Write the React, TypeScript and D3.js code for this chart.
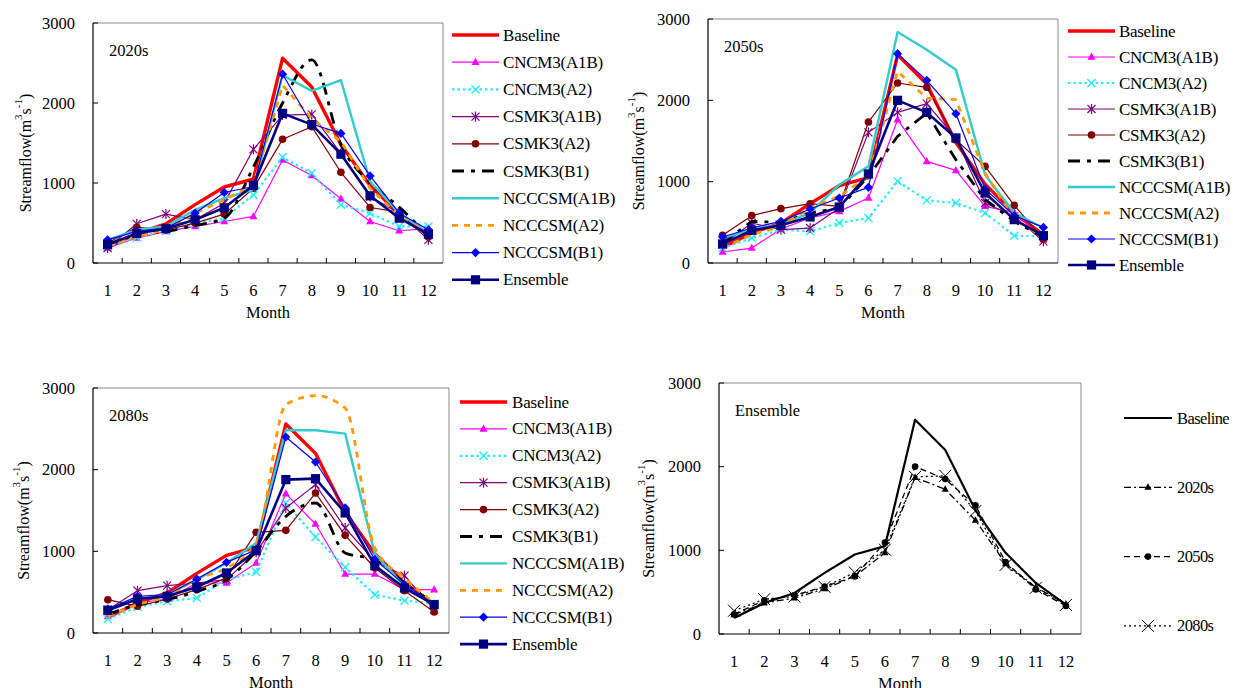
import React from "react";
import * as d3 from "d3";

const FONT = "Liberation Serif, Times New Roman, DejaVu Serif, serif";

const months = [1, 2, 3, 4, 5, 6, 7, 8, 9, 10, 11, 12];
const yTicks = [0, 1000, 2000, 3000];

const seriesNames = [
  "Baseline", "CNCM3(A1B)", "CNCM3(A2)", "CSMK3(A1B)", "CSMK3(A2)",
  "CSMK3(B1)", "NCCCSM(A1B)", "NCCCSM(A2)", "NCCCSM(B1)", "Ensemble",
];
const ensembleNames = ["Baseline", "2020s", "2050s", "2080s"];

const baseline = [190, 370, 490, 730, 950, 1050, 2560, 2200, 1480, 970, 610, 350];

// 2020s
const cncm3A1B_2020 = [187, 312, 395, 457, 519, 582, 1288, 1093, 802, 519, 403, 430];
const cncm3A2_2020 = [208, 320, 403, 490, 560, 850, 1321, 1122, 727, 623, 457, 457];
const csmk3A1B_2020 = [187, 490, 611, 540, 748, 1421, 1849, 1857, 1371, 831, 623, 290];
const csmk3A2_2020 = [250, 445, 415, 499, 611, 935, 1546, 1704, 1134, 694, 636, 324];
const csmk3B1_2020 = [228, 353, 395, 470, 560, 1200, 2000, 2540, 1480, 1000, 700, 330];
const ncccsmA1B_2020 = [290, 415, 457, 665, 810, 914, 2347, 2152, 2285, 1018, 623, 374];
const ncccsmA2_2020 = [208, 332, 415, 623, 790, 976, 2223, 1807, 1517, 935, 582, 374];
const ncccsmB1_2020 = [290, 395, 436, 623, 881, 956, 2360, 1737, 1620, 1089, 623, 415];
const ensemble_2020 = [230, 370, 430, 540, 690, 970, 1870, 1730, 1360, 840, 560, 360];

// 2050s
const cncm3A1B_2050 = [135, 184, 418, 553, 635, 799, 1762, 1250, 1139, 697, 623, 287];
const cncm3A2_2050 = [184, 307, 410, 389, 492, 553, 1004, 770, 738, 615, 336, 328];
const csmk3A1B_2050 = [225, 492, 410, 430, 676, 1606, 1852, 1959, 1537, 738, 574, 266];
const csmk3A2_2050 = [340, 582, 668, 729, 697, 1733, 2213, 2160, 1516, 1188, 709, 295];
const csmk3B1_2050 = [246, 512, 500, 615, 676, 1065, 1557, 1844, 1270, 779, 512, 320];
const ncccsmA1B_2050 = [307, 410, 471, 615, 963, 1188, 2840, 2623, 2377, 1086, 615, 430];
const ncccsmA2_2050 = [184, 348, 451, 676, 820, 1065, 2356, 2028, 2008, 1106, 533, 328];
const ncccsmB1_2050 = [320, 430, 512, 664, 799, 930, 2574, 2246, 1836, 910, 582, 438];
const ensemble_2050 = [234, 402, 463, 566, 688, 1094, 2000, 1852, 1537, 860, 533, 336];

// 2080s
const cncm3A1B_2080 = [204, 367, 416, 612, 612, 857, 1706, 1335, 722, 722, 531, 531];
const cncm3A2_2080 = [171, 318, 388, 429, 653, 747, 1592, 1176, 804, 469, 396, 360];
const csmk3A1B_2080 = [286, 518, 580, 612, 653, 988, 1531, 1817, 1286, 878, 702, 286];
const csmk3A2_2080 = [408, 327, 416, 531, 674, 1233, 1257, 1714, 1196, 796, 518, 257];
const csmk3B1_2080 = [225, 347, 408, 510, 653, 1000, 1429, 1592, 980, 898, 612, 367];
const ncccsmA1B_2080 = [278, 408, 469, 653, 857, 1102, 2482, 2482, 2441, 971, 571, 347];
const ncccsmA2_2080 = [204, 347, 449, 661, 796, 1102, 2796, 2906, 2755, 1041, 674, 367];
const ncccsmB1_2080 = [294, 449, 469, 661, 865, 1020, 2400, 2094, 1531, 898, 592, 355];
const ensemble_2080 = [278, 416, 449, 563, 735, 1008, 1878, 1890, 1470, 825, 551, 347];

type Style = {
  color: string;
  width: number;
  dash?: string;
  marker?: string;
  ms?: number;
  mw?: number;
};

const modelStyles: Style[] = [
  { color: "#ff0000", width: 3.4 },
  { color: "#ff00ff", width: 1.2, marker: "triangle", ms: 4 },
  { color: "#22eeff", width: 2.2, dash: "2.5,3", marker: "x", ms: 4, mw: 1.4 },
  { color: "#800080", width: 1.2, marker: "asterisk", ms: 4, mw: 1.2 },
  { color: "#800000", width: 1.2, marker: "circle", ms: 3.8 },
  { color: "#000000", width: 2.8, dash: "12,7,4,7" },
  { color: "#33cccc", width: 2.4 },
  { color: "#ff9900", width: 2.8, dash: "6,6" },
  { color: "#0000ff", width: 1.2, marker: "diamond", ms: 4.6 },
  { color: "#000080", width: 2.6, marker: "square", ms: 4.6 },
];

const ensStyles: Style[] = [
  { color: "#000000", width: 2.2 },
  { color: "#000000", width: 1.3, dash: "7,3,2,3", marker: "triangle", ms: 3.6 },
  { color: "#000000", width: 1.3, dash: "6,4", marker: "circle", ms: 3.3 },
  { color: "#000000", width: 1.3, dash: "2,3", marker: "x", ms: 6, mw: 1 },
];

function Marker({ type, x, y, color, s, w }: { type?: string; x: number; y: number; color: string; s: number; w?: number }) {
  if (!type) return null;
  const sw = w ?? 1.3;
  switch (type) {
    case "triangle":
      return <polygon points={`${x},${y - s * 1.1} ${x - s},${y + s * 0.7} ${x + s},${y + s * 0.7}`} fill={color} />;
    case "x":
      return (
        <g stroke={color} strokeWidth={sw}>
          <line x1={x - s} y1={y - s} x2={x + s} y2={y + s} />
          <line x1={x - s} y1={y + s} x2={x + s} y2={y - s} />
        </g>
      );
    case "asterisk":
      return (
        <g stroke={color} strokeWidth={sw}>
          <line x1={x - s} y1={y - s} x2={x + s} y2={y + s} />
          <line x1={x - s} y1={y + s} x2={x + s} y2={y - s} />
          <line x1={x} y1={y - s * 1.25} x2={x} y2={y + s * 1.25} />
        </g>
      );
    case "circle":
      return <circle cx={x} cy={y} r={s} fill={color} />;
    case "diamond":
      return <polygon points={`${x},${y - s} ${x + s},${y} ${x},${y + s} ${x - s},${y}`} fill={color} />;
    case "square":
      return <rect x={x - s} y={y - s} width={2 * s} height={2 * s} fill={color} />;
  }
  return null;
}

type PanelProps = {
  title: string;
  left: number;
  right: number;
  top: number;
  bottom: number;
  names: string[];
  values: number[][];
  styles: Style[];
  smoothIdx: number[];
  legend: { x1: number; x2: number; tx: number; y0: number; dy: number; fs: number; ls: number };
  yTitleX: number;
};

function Panel(p: PanelProps) {
  const x = d3.scaleBand<number>().domain(months).range([p.left, p.right]).padding(0);
  const y = d3.scaleLinear().domain([0, 3000]).range([p.bottom, p.top]);
  const cx = (m: number) => (x(m) as number) + x.bandwidth() / 2;
  const boundaries = months.map((m) => (x(m) as number)).concat([p.right]);
  const midY = (p.top + p.bottom) / 2 + 10;
  const tf = { fontFamily: FONT };

  return (
    <g fill="#000">
      <line x1={p.left} y1={p.top} x2={p.right} y2={p.top} stroke="#8a8a8a" strokeWidth={1} />
      <line x1={p.right} y1={p.top} x2={p.right} y2={p.bottom} stroke="#8a8a8a" strokeWidth={1} />
      <line x1={p.left} y1={p.top} x2={p.left} y2={p.bottom} stroke="#000" strokeWidth={1.2} />
      <line x1={p.left} y1={p.bottom} x2={p.right} y2={p.bottom} stroke="#000" strokeWidth={1.2} />
      {yTicks.map((t) => (
        <g key={t}>
          <line x1={p.left} x2={p.left + 5} y1={y(t)} y2={y(t)} stroke="#000" strokeWidth={1} />
          <text style={tf} x={p.left - 18} y={y(t)} textAnchor="end" dominantBaseline="central" fontSize={16.5}>{t}</text>
        </g>
      ))}
      {boundaries.slice(1, -1).map((b, i) => (
        <line key={i} x1={b} x2={b} y1={p.bottom} y2={p.bottom - 5} stroke="#000" strokeWidth={1} />
      ))}
      {months.map((m) => (
        <text style={tf} key={m} x={cx(m)} y={p.bottom + 27} textAnchor="middle" dominantBaseline="central" fontSize={16.5}>{m}</text>
      ))}
      <text style={tf} x={(p.left + p.right) / 2} y={p.bottom + 49} textAnchor="middle" dominantBaseline="central" fontSize={16.5}>Month</text>
      <text style={tf} transform={`translate(${p.yTitleX},${midY}) rotate(-90)`} textAnchor="middle" dominantBaseline="central" fontSize={16}>
        Streamflow(m<tspan dy={-7} fontSize={11}>3</tspan><tspan dy={7}>s</tspan><tspan dy={-7} fontSize={11}>-1</tspan><tspan dy={7}>)</tspan>
      </text>
      <text style={tf} x={p.left + 16} y={p.top + 27} dominantBaseline="central" fontSize={16.5}>{p.title}</text>

      {p.values.map((vals, si) => {
        const st = p.styles[si];
        const line = d3
          .line<number>()
          .x((_, i) => cx(months[i]))
          .y((d) => y(d))
          .curve(p.smoothIdx.includes(si) ? d3.curveMonotoneX : d3.curveLinear);
        return (
          <g key={si}>
            <path d={line(vals) ?? ""} fill="none" stroke={st.color} strokeWidth={st.width} strokeDasharray={st.dash} strokeLinejoin="round" />
            {vals.map((v, i) => (
              <Marker key={i} type={st.marker} x={cx(months[i])} y={y(v)} color={st.color} s={st.ms ?? 4} w={st.mw} />
            ))}
          </g>
        );
      })}

      {p.names.map((n, i) => {
        const st = p.styles[i];
        const ly = p.legend.y0 + i * p.legend.dy;
        return (
          <g key={n}>
            <line x1={p.legend.x1} x2={p.legend.x2} y1={ly} y2={ly} stroke={st.color} strokeWidth={st.width} strokeDasharray={st.dash} />
            <Marker type={st.marker} x={(p.legend.x1 + p.legend.x2) / 2} y={ly} color={st.color} s={st.ms ?? 4} w={st.mw} />
            <text style={{ ...tf, letterSpacing: p.legend.ls }} x={p.legend.tx} y={ly} dominantBaseline="central" fontSize={p.legend.fs}>{n}</text>
          </g>
        );
      })}
    </g>
  );
}

export default function App() {
  return (
    <svg width={1233} height={688} style={{ position: "absolute", left: 0, top: 0, background: "#fff", fontFamily: FONT }}>
      <rect width={1233} height={688} fill="#fff" />
      <Panel
        title="2020s" left={93} right={443} top={23} bottom={263}
        names={seriesNames}
        values={[baseline, cncm3A1B_2020, cncm3A2_2020, csmk3A1B_2020, csmk3A2_2020, csmk3B1_2020, ncccsmA1B_2020, ncccsmA2_2020, ncccsmB1_2020, ensemble_2020]}
        styles={modelStyles}
        smoothIdx={[5]}
        legend={{ x1: 452, x2: 499, tx: 503, y0: 35, dy: 27.2, fs: 17, ls: -0.2 }}
        yTitleX={25}
      />
      <Panel
        title="2050s" left={708} right={1058} top={19} bottom={263}
        names={seriesNames}
        values={[baseline, cncm3A1B_2050, cncm3A2_2050, csmk3A1B_2050, csmk3A2_2050, csmk3B1_2050, ncccsmA1B_2050, ncccsmA2_2050, ncccsmB1_2050, ensemble_2050]}
        styles={modelStyles}
        smoothIdx={[]}
        legend={{ x1: 1068, x2: 1115, tx: 1119, y0: 31, dy: 26, fs: 17, ls: -0.3 }}
        yTitleX={638}
      />
      <Panel
        title="2080s" left={93} right={449} top={388} bottom={633}
        names={seriesNames}
        values={[baseline, cncm3A1B_2080, cncm3A2_2080, csmk3A1B_2080, csmk3A2_2080, csmk3B1_2080, ncccsmA1B_2080, ncccsmA2_2080, ncccsmB1_2080, ensemble_2080]}
        styles={modelStyles}
        smoothIdx={[5, 7]}
        legend={{ x1: 460, x2: 507, tx: 512, y0: 402, dy: 26.9, fs: 17, ls: -0.2 }}
        yTitleX={23}
      />
      <Panel
        title="Ensemble" left={719} right={1081} top={383} bottom={634}
        names={ensembleNames}
        values={[baseline, ensemble_2020, ensemble_2050, ensemble_2080]}
        styles={ensStyles}
        smoothIdx={[]}
        legend={{ x1: 1124, x2: 1172, tx: 1177, y0: 418, dy: 69.3, fs: 16.5, ls: -0.6 }}
        yTitleX={648}
      />
    </svg>
  );
}
